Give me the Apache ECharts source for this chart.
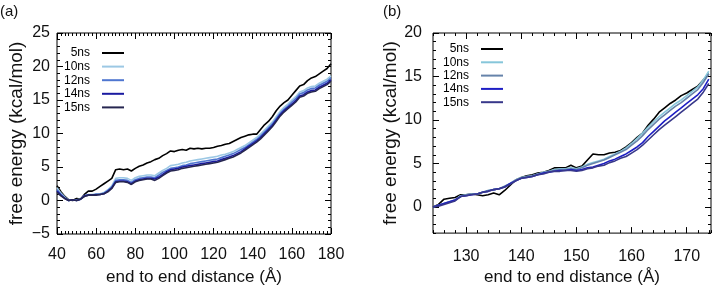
<!DOCTYPE html>
<html>
<head>
<meta charset="utf-8">
<script src="https://cdn.jsdelivr.net/npm/echarts@6/dist/echarts.min.js"></script>
<style>
html, body { margin: 0; padding: 0; background: #fff; }
#chart { width: 712px; height: 291px; }
</style>
</head>
<body>
<div id="chart"></div>
<script>
const seriesNames = ['5ns', '10ns', '12ns', '14ns', '15ns'];
const leftColors = ['#000000', '#9cc8e4', '#4f76d0', '#1a1aa0', '#262650'];
const rightColors = ['#000000', '#86c6da', '#6683aa', '#1e1ec4', '#38388a'];

const leftXTicks = [40, 60, 80, 100, 120, 140, 160, 180];
const leftYTicks = [-5, 0, 5, 10, 15, 20, 25];
const rightXTicks = [130, 140, 150, 160, 170];
const rightYTicks = [0, 5, 10, 15, 20];

// left panel: distance 40..180, every 2 Å
const leftStart = 40, leftStep = 2;
const left5ns = [2.2, 1.3, 0.6, 0.1, 0.0, 0.3, 0.2, 0.9, 1.4, 1.4, 1.7, 2.1, 2.5, 2.9, 3.3, 4.6, 4.7, 4.6, 4.7, 4.4,
  4.8, 5.1, 5.3, 5.6, 5.8, 6.1, 6.3, 6.7, 7.0, 7.4, 7.3, 7.5, 7.6, 7.5, 7.8, 7.7, 7.8, 7.7, 7.8, 7.8,
  7.9, 8.1, 8.2, 8.4, 8.5, 8.8, 9.1, 9.4, 9.6, 9.8, 9.9, 9.9, 10.6, 11.3, 11.8, 12.5, 13.4, 14.1, 14.6, 15.0,
  15.7, 16.4, 17.1, 17.3, 17.9, 18.3, 18.5, 18.9, 19.3, 19.7, 20.4];
const left10ns = [1.9, 1.1, 0.5, 0.0, 0.1, 0.1, 0.2, 0.7, 0.9, 0.9, 1.0, 1.0, 1.2, 1.6, 2.2, 3.3, 3.4, 3.4, 3.3, 3.0,
  3.4, 3.6, 3.7, 3.8, 3.8, 3.7, 4.1, 4.5, 4.8, 5.2, 5.3, 5.4, 5.6, 5.7, 5.9, 6.0, 6.1, 6.2, 6.3, 6.4,
  6.5, 6.6, 6.8, 6.9, 7.1, 7.3, 7.6, 7.9, 8.2, 8.6, 9.0, 9.4, 9.9, 10.5, 11.1, 11.7, 12.5, 13.3, 13.9, 14.4,
  15.0, 15.5, 16.2, 16.4, 16.8, 17.0, 17.1, 17.5, 17.8, 18.1, 18.6];
const left12ns = [1.6, 0.9, 0.4, 0.0, 0.1, 0.0, 0.2, 0.7, 0.8, 0.8, 0.9, 0.9, 1.1, 1.5, 2.0, 3.0, 3.1, 3.1, 3.0, 2.7,
  3.1, 3.3, 3.4, 3.5, 3.5, 3.4, 3.8, 4.2, 4.5, 4.8, 4.9, 5.0, 5.2, 5.3, 5.5, 5.6, 5.7, 5.8, 5.9, 6.0,
  6.1, 6.2, 6.4, 6.6, 6.8, 7.0, 7.3, 7.6, 7.9, 8.3, 8.7, 9.1, 9.6, 10.2, 10.8, 11.4, 12.2, 13.0, 13.6, 14.1,
  14.7, 15.2, 15.9, 16.1, 16.5, 16.7, 16.8, 17.2, 17.5, 17.8, 18.3];
const left14ns = [1.4, 0.8, 0.3, 0.0, 0.1, 0.0, 0.2, 0.7, 0.8, 0.8, 0.9, 0.9, 1.0, 1.4, 1.9, 2.8, 2.9, 2.9, 2.8, 2.5,
  2.9, 3.1, 3.2, 3.3, 3.3, 3.2, 3.5, 3.9, 4.3, 4.6, 4.7, 4.8, 5.0, 5.1, 5.2, 5.3, 5.4, 5.5, 5.6, 5.7,
  5.8, 5.9, 6.1, 6.3, 6.5, 6.7, 7.0, 7.3, 7.7, 8.1, 8.5, 8.9, 9.4, 10.0, 10.6, 11.2, 12.0, 12.8, 13.4, 13.9,
  14.4, 14.9, 15.6, 15.8, 16.2, 16.4, 16.5, 16.9, 17.2, 17.5, 18.0];
const left15ns = [1.2, 0.7, 0.3, 0.0, 0.1, 0.0, 0.2, 0.6, 0.8, 0.8, 0.8, 0.9, 1.0, 1.3, 1.8, 2.7, 2.8, 2.8, 2.7, 2.4,
  2.8, 3.0, 3.1, 3.2, 3.2, 3.0, 3.3, 3.7, 4.1, 4.4, 4.5, 4.6, 4.8, 4.9, 5.0, 5.1, 5.2, 5.3, 5.4, 5.5,
  5.6, 5.7, 5.9, 6.1, 6.3, 6.5, 6.8, 7.1, 7.5, 7.9, 8.3, 8.7, 9.2, 9.8, 10.4, 11.0, 11.8, 12.6, 13.2, 13.7,
  14.2, 14.7, 15.4, 15.6, 16.0, 16.2, 16.3, 16.7, 17.0, 17.3, 17.8];

// right panel: distance 124..174, every 1 Å
const rightStart = 124, rightStep = 1;
const right5ns = [0.0, 0.3, 0.9, 1.0, 1.1, 1.4, 1.4, 1.5, 1.4, 1.3, 1.4, 1.6, 1.4, 1.9, 2.5, 3.1, 3.4, 3.6, 3.7, 3.9,
  4.0, 4.2, 4.5, 4.5, 4.5, 4.8, 4.5, 4.7, 5.4, 6.1, 6.0, 6.0, 6.2, 6.3, 6.5, 6.9, 7.4, 8.0, 8.5, 9.4,
  10.1, 10.9, 11.4, 11.9, 12.3, 12.8, 13.1, 13.5, 13.9, 14.6, 15.3];
const right10ns = [0.0, 0.2, 0.4, 0.6, 0.8, 1.3, 1.4, 1.5, 1.5, 1.7, 1.9, 2.0, 2.1, 2.4, 2.7, 3.1, 3.4, 3.5, 3.6, 3.8,
  4.0, 4.1, 4.3, 4.4, 4.4, 4.5, 4.4, 4.6, 4.9, 5.1, 5.3, 5.5, 5.8, 6.1, 6.4, 6.8, 7.3, 7.9, 8.5, 9.2,
  9.8, 10.4, 10.9, 11.4, 11.9, 12.3, 12.8, 13.3, 13.8, 14.6, 15.6];
const right12ns = [0.0, 0.2, 0.4, 0.6, 0.8, 1.2, 1.4, 1.5, 1.5, 1.7, 1.9, 2.0, 2.1, 2.4, 2.7, 3.1, 3.3, 3.5, 3.6, 3.8,
  3.9, 4.1, 4.2, 4.3, 4.3, 4.4, 4.3, 4.5, 4.8, 5.0, 5.2, 5.4, 5.7, 6.0, 6.3, 6.6, 7.1, 7.6, 8.2, 8.9,
  9.5, 10.1, 10.6, 11.1, 11.6, 12.0, 12.5, 13.0, 13.5, 14.3, 15.3];
const right14ns = [0.0, 0.2, 0.4, 0.6, 0.8, 1.2, 1.3, 1.4, 1.5, 1.7, 1.8, 2.0, 2.1, 2.3, 2.7, 3.0, 3.3, 3.4, 3.5, 3.7,
  3.9, 4.0, 4.1, 4.2, 4.2, 4.3, 4.2, 4.3, 4.5, 4.6, 4.8, 5.0, 5.3, 5.5, 5.8, 6.1, 6.5, 6.9, 7.4, 8.1,
  8.7, 9.3, 9.9, 10.4, 10.9, 11.4, 11.9, 12.4, 12.9, 13.6, 14.7];
const right15ns = [0.0, 0.1, 0.3, 0.5, 0.7, 1.2, 1.3, 1.4, 1.5, 1.7, 1.8, 2.0, 2.1, 2.3, 2.6, 3.0, 3.3, 3.4, 3.5, 3.7,
  3.8, 4.0, 4.1, 4.1, 4.2, 4.2, 4.1, 4.2, 4.4, 4.5, 4.7, 4.8, 5.1, 5.3, 5.6, 5.8, 6.2, 6.6, 7.1, 7.7,
  8.3, 8.9, 9.4, 9.9, 10.4, 10.9, 11.4, 11.9, 12.4, 13.2, 14.2];

const font = 'Liberation Sans';

function pairs(start, step, values) {
    return values.map((v, i) => [start + i * step, v]);
}

// four sides of a box: major ticks with labels on one side, mirrored ticks on the other
function frameAxes(dim, grid, min, max, majors, minorStep, name, labelMargin, nameGap, nameSize) {
    const sides = dim === 'x' ? ['bottom', 'top'] : ['left', 'right'];
    const axes = [];
    sides.forEach((side, s) => {
        axes.push({
            type: 'value', gridIndex: grid, position: side, min: min, max: max,
            axisLine: { show: false, onZero: false },
            axisTick: { inside: true, length: 6, customValues: majors, lineStyle: { color: '#000', width: 1 } },
            axisLabel: s === 0 ? {
                customValues: majors, margin: labelMargin, color: '#111', fontFamily: font, fontSize: 16,
                formatter: v => String(v).replace('-', '\u2212')
            } : { show: false },
            splitLine: { show: false },
            name: s === 0 ? name : '',
            nameLocation: 'middle',
            nameGap: nameGap,
            nameTextStyle: { color: '#111', fontFamily: font, fontSize: nameSize }
        });
        axes.push({
            type: 'value', gridIndex: grid, position: side, min: min, max: max, interval: minorStep,
            axisLine: { show: false, onZero: false },
            axisTick: { inside: true, length: 3, lineStyle: { color: '#000', width: 1 } },
            axisLabel: { show: false },
            splitLine: { show: false }
        });
    });
    return axes;
}

function lines(grid, start, step, data, colors) {
    return data.map((d, i) => ({
        type: 'line',
        name: seriesNames[i],
        xAxisIndex: grid * 4,
        yAxisIndex: grid * 4,
        data: pairs(start, step, d),
        symbol: 'none',
        lineStyle: { width: 1.6, color: colors[i] },
        itemStyle: { color: colors[i] },
        z: 2 + i
    }));
}

function legendFor(left, top, gap, colors) {
    return {
        orient: 'vertical', left: left, top: top, padding: 0, align: 'right',
        itemWidth: 22, itemHeight: 2, itemGap: gap, icon: 'rect', selectedMode: false,
        data: seriesNames.map((n, i) => ({ name: n, itemStyle: { color: colors[i] } })),
        textStyle: { fontFamily: font, fontSize: 12, color: '#000', lineHeight: 12, padding: [0, 7, 0, 0] }
    };
}

const xLabel = 'end to end distance (\u00c5)';
const yLabel = 'free energy (kcal/mol)';

const myChart = echarts.init(document.getElementById('chart'), null, { renderer: 'canvas' });

const option = {
    animation: false,
    backgroundColor: '#fff',
    title: [
        { text: '(a)', left: 0, top: 4, padding: 0, textStyle: { fontFamily: font, fontSize: 15, fontWeight: 'normal', color: '#111' } },
        { text: '(b)', left: 383, top: 4, padding: 0, textStyle: { fontFamily: font, fontSize: 15, fontWeight: 'normal', color: '#111' } }
    ],
    grid: [
        { left: 57, right: 381, top: 33, bottom: 49, show: true, borderColor: '#000', borderWidth: 1 },
        { left: 433, right: 1, top: 33, bottom: 49, show: true, borderColor: '#000', borderWidth: 1 }
    ],
    legend: [
        legendFor(64, 47, 1.6, leftColors),
        legendFor(443, 43, 1.3, rightColors)
    ],
    xAxis: [].concat(
        frameAxes('x', 0, 40, 180, leftXTicks, 2, xLabel, 13, 35, 17),
        frameAxes('x', 1, 124, 174.4, rightXTicks, 2, xLabel, 15, 35, 17)
    ),
    yAxis: [].concat(
        frameAxes('y', 0, -5, 25, leftYTicks, 1, yLabel, 7, 31, 19),
        frameAxes('y', 1, -3, 20, rightYTicks, 1, yLabel, 11, 17, 19)
    ),
    series: [].concat(
        lines(0, leftStart, leftStep, [left5ns, left10ns, left12ns, left14ns, left15ns], leftColors),
        lines(1, rightStart, rightStep, [right5ns, right10ns, right12ns, right14ns, right15ns], rightColors)
    )
};

myChart.setOption(option);
window.addEventListener('resize', myChart.resize);
</script>
</body>
</html>
